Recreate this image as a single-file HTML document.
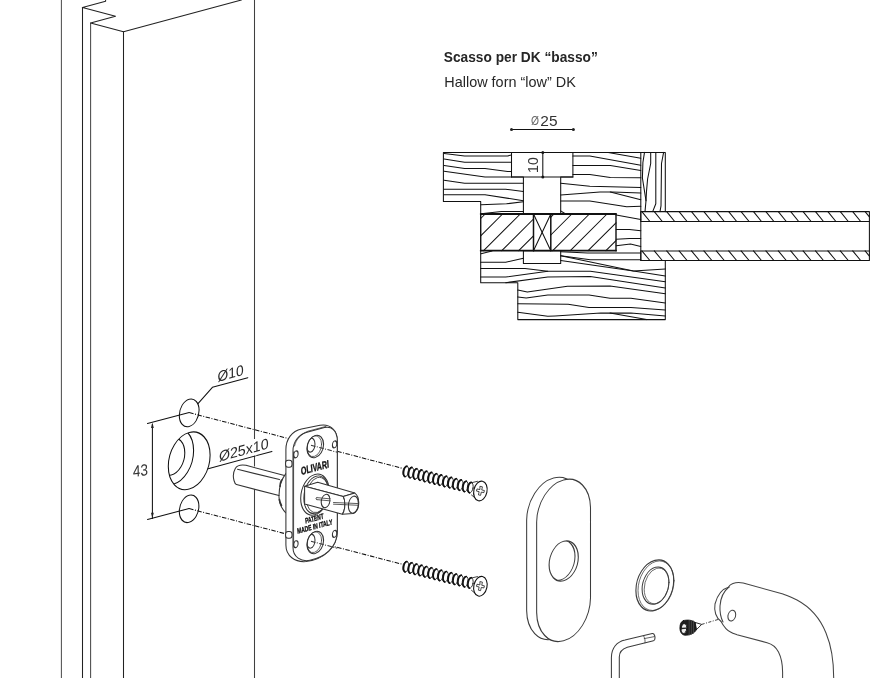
<!DOCTYPE html>
<html><head><meta charset="utf-8">
<style>
html,body{margin:0;padding:0;background:#fff;}
body{width:879px;height:678px;overflow:hidden;}
svg{display:block;will-change:transform;}
text{font-family:"Liberation Sans",sans-serif;-webkit-font-smoothing:antialiased;}
svg{-webkit-font-smoothing:antialiased;}
</style></head>
<body>
<svg width="879" height="678" viewBox="0 0 879 678">
<g fill="none" stroke="#111" stroke-width="1.05" stroke-linejoin="round" stroke-linecap="round">
<g stroke="none" fill="#262626">
<text x="443.8" y="61.7" font-size="15" font-weight="bold" textLength="154" lengthAdjust="spacingAndGlyphs">Scasso per DK “basso”</text>
<text x="444.3" y="86.5" font-size="15" textLength="131.5" lengthAdjust="spacingAndGlyphs">Hallow forn “low” DK</text>
<text x="531" y="125.3" font-size="12.5" fill="#666" textLength="8" lengthAdjust="spacingAndGlyphs">Ø</text>
<text x="540.3" y="125.6" font-size="15" fill="#333" textLength="17.2" lengthAdjust="spacingAndGlyphs">25</text>
<text transform="translate(538.2,173) rotate(-90)" font-size="14.5" fill="#333" textLength="15.8" lengthAdjust="spacingAndGlyphs">10</text>
</g>
<g id="section"><line x1="511.5" y1="129.5" x2="573.4" y2="129.5"/>
<circle cx="511.5" cy="129.5" r="1.5" fill="#222" stroke="none"/>
<circle cx="573.4" cy="129.5" r="1.5" fill="#222" stroke="none"/>
<circle cx="542.8" cy="152.4" r="1.5" fill="#222" stroke="none"/>
<circle cx="542.8" cy="176.9" r="1.5" fill="#222" stroke="none"/>
<line x1="542.8" y1="152.4" x2="542.8" y2="176.9"/>
<polyline points="640.8,152.4 443.4,152.4 443.4,201.5 480.7,201.5 480.7,282.7 517.8,282.7 517.8,319.6 665.3,319.6 665.3,260.5"/>
<polyline points="640.8,152.4 665.3,152.4 665.3,211.6"/>
<line x1="640.8" y1="152.4" x2="640.8" y2="260.5"/>
<polyline points="511.5,152.4 511.5,176.9 572.9,176.9 572.9,152.4"/>
<polyline points="511.5,176.9 523.4,176.9 523.4,213.8"/>
<polyline points="572.9,176.9 560.7,176.9 560.7,213.8"/>
<polyline points="444.1,153.6 464.6,155.9 507.6,155.9 511.4,155.1"/>
<polyline points="444.1,159 464.6,162.3 511.4,162.3"/>
<polyline points="444.1,165.4 464.6,168.4 485,168.4 507.6,171.5 511.4,171.5"/>
<polyline points="444.1,171.3 485,176.9 511.4,176.9"/>
<polyline points="444.1,180.2 464.6,183.3 523.4,183.3"/>
<polyline points="444.1,189.2 505.5,189.2 523.4,191.5"/>
<polyline points="444.1,194.7 485,194.7 523.4,200.7"/>
<polyline points="481,204.8 506.5,203.8 523.4,201.7"/>
<polyline points="481,213.8 501.4,211.4 523.4,211.4"/>
<polyline points="608.2,152.6 640.8,158.2"/>
<polyline points="572.9,155.9 589.8,155.9 640.8,165.2"/>
<polyline points="572.9,165.4 610.3,165.4 640.8,170.5"/>
<polyline points="572.9,174.4 589.8,174.4 610.3,177.4 640.8,177.8"/>
<polyline points="560.7,183.3 589.8,186.3 640.8,187.4"/>
<polyline points="560.7,195 600,192 612.3,192 640.8,193"/>
<polyline points="610.3,192 640.8,199.7"/>
<polyline points="560.7,201 589.8,201 626.7,206.8 640.8,206.3"/>
<polyline points="560.7,210.9 565.2,213.8"/>
<polyline points="644.5,152.4 642.9,162.5 642.4,178 646,200.7 645,211.6"/>
<polyline points="650.7,152.4 650.7,163.5 647.6,179 646.5,191.4 646,200.7"/>
<polyline points="655.8,152.4 655.8,203.8 652.7,211.6"/>
<polyline points="663.6,152.4 661.5,163.5 661,205.9 660,211.6"/>
<polyline points="616.2,215.1 640.8,219.4"/>
<polyline points="616.2,229.5 629.5,229.5 640.8,230.7"/>
<polyline points="616.2,239.3 629.5,238.4 640.8,238.4"/>
<polyline points="616.2,245.8 630.5,244.1 640.8,246.4"/>
<polyline points="481,253.7 492,251"/>
<polyline points="480.7,262.2 505.7,262.2 523.4,258.2"/>
<polyline points="480.7,268.5 525,268.5 547.8,271.3 590.3,271.3 665.3,281.8"/>
<polyline points="480.7,277 505.7,277 547.8,271.3"/>
<polyline points="505.7,282.7 547.8,277 590.3,276.5 665.3,287.9"/>
<polyline points="517.8,290.1 527.3,292.1 567.5,286.2 610,286.1 665.3,293.7"/>
<polyline points="517.8,296.9 526.2,298 547.8,294.9 589,295 610,298.3 630.9,298.3 665.3,302.9"/>
<polyline points="517.8,303.7 568.1,304.2 589,307.4 630.9,307.4 665.3,310"/>
<polyline points="517.8,312.3 547.8,316.3 555,316 600.8,313.1 630.9,313.1 665.3,316"/>
<polyline points="610,313.1 646.6,319.6"/>
<polyline points="560.7,251.7 587.7,253 640.8,253"/>
<polyline points="560.7,255.8 590.3,259.8 640.8,259.8"/>
<polyline points="560.7,255.8 633.5,270.9 665.3,276.1"/>
<polyline points="560.7,260.4 633.5,270.9 665.3,268.9"/>
<line x1="480.7" y1="214" x2="616" y2="214" stroke-width="1.8"/>
<line x1="480.7" y1="250.7" x2="616" y2="250.7" stroke-width="1.8"/>
<line x1="480.7" y1="214" x2="480.7" y2="250.7" stroke-width="1.1"/>
<line x1="616" y1="214" x2="616" y2="250.7" stroke-width="1.4"/>
<line x1="533.5" y1="214" x2="533.5" y2="250.7" stroke-width="1.5"/>
<line x1="550.8" y1="214" x2="550.8" y2="250.7" stroke-width="1.5"/>
<line x1="533.5" y1="214" x2="550.8" y2="250.7"/>
<line x1="550.8" y1="214" x2="533.5" y2="250.7"/>
<line x1="480.7" y1="218.5" x2="485.2" y2="214.0"/>
<line x1="480.7" y1="235.9" x2="502.6" y2="214.0"/>
<line x1="483.6" y1="250.7" x2="520.3" y2="214.0"/>
<line x1="501.8" y1="250.7" x2="533.5" y2="219.0"/>
<line x1="518.7" y1="250.7" x2="533.5" y2="235.9"/>
<line x1="550.8" y1="217.2" x2="554.0" y2="214.0"/>
<line x1="550.8" y1="235.0" x2="571.8" y2="214.0"/>
<line x1="552.7" y1="250.7" x2="589.4" y2="214.0"/>
<line x1="570.3" y1="250.7" x2="607.0" y2="214.0"/>
<line x1="588.1" y1="250.7" x2="616.0" y2="222.8"/>
<line x1="605.9" y1="250.7" x2="616.0" y2="240.6"/>
<rect x="523.4" y="250.7" width="37.3" height="12.7"/>
<rect x="640.8" y="211.6" width="228.6" height="9.9"/>
<rect x="640.8" y="250.9" width="228.6" height="9.6"/>
<line x1="869.4" y1="221.5" x2="869.4" y2="250.9"/>
<line x1="641.9" y1="211.6" x2="649.9" y2="221.5"/>
<line x1="641.9" y1="250.9" x2="649.9" y2="260.5"/>
<line x1="654.3" y1="211.6" x2="662.3" y2="221.5"/>
<line x1="654.3" y1="250.9" x2="662.3" y2="260.5"/>
<line x1="666.7" y1="211.6" x2="674.7" y2="221.5"/>
<line x1="666.7" y1="250.9" x2="674.7" y2="260.5"/>
<line x1="679.1" y1="211.6" x2="687.1" y2="221.5"/>
<line x1="679.1" y1="250.9" x2="687.1" y2="260.5"/>
<line x1="691.5" y1="211.6" x2="699.5" y2="221.5"/>
<line x1="691.5" y1="250.9" x2="699.5" y2="260.5"/>
<line x1="703.9" y1="211.6" x2="711.9" y2="221.5"/>
<line x1="703.9" y1="250.9" x2="711.9" y2="260.5"/>
<line x1="716.3" y1="211.6" x2="724.3" y2="221.5"/>
<line x1="716.3" y1="250.9" x2="724.3" y2="260.5"/>
<line x1="728.7" y1="211.6" x2="736.7" y2="221.5"/>
<line x1="728.7" y1="250.9" x2="736.7" y2="260.5"/>
<line x1="741.1" y1="211.6" x2="749.1" y2="221.5"/>
<line x1="741.1" y1="250.9" x2="749.1" y2="260.5"/>
<line x1="753.5" y1="211.6" x2="761.5" y2="221.5"/>
<line x1="753.5" y1="250.9" x2="761.5" y2="260.5"/>
<line x1="765.9" y1="211.6" x2="773.9" y2="221.5"/>
<line x1="765.9" y1="250.9" x2="773.9" y2="260.5"/>
<line x1="778.3" y1="211.6" x2="786.3" y2="221.5"/>
<line x1="778.3" y1="250.9" x2="786.3" y2="260.5"/>
<line x1="790.7" y1="211.6" x2="798.7" y2="221.5"/>
<line x1="790.7" y1="250.9" x2="798.7" y2="260.5"/>
<line x1="803.1" y1="211.6" x2="811.1" y2="221.5"/>
<line x1="803.1" y1="250.9" x2="811.1" y2="260.5"/>
<line x1="815.5" y1="211.6" x2="823.5" y2="221.5"/>
<line x1="815.5" y1="250.9" x2="823.5" y2="260.5"/>
<line x1="827.9" y1="211.6" x2="835.9" y2="221.5"/>
<line x1="827.9" y1="250.9" x2="835.9" y2="260.5"/>
<line x1="840.3" y1="211.6" x2="848.3" y2="221.5"/>
<line x1="840.3" y1="250.9" x2="848.3" y2="260.5"/>
<line x1="852.7" y1="211.6" x2="860.7" y2="221.5"/>
<line x1="852.7" y1="250.9" x2="860.7" y2="260.5"/>
<line x1="865.1" y1="211.6" x2="869.4" y2="216.9"/>
<line x1="865.1" y1="250.9" x2="869.4" y2="256.1"/></g>
<g id="door">
<line x1="61.4" y1="0" x2="61.4" y2="678" stroke="#505050"/>
<line x1="82.5" y1="7.4" x2="82.5" y2="678" stroke="#222"/>
<line x1="90.6" y1="23" x2="90.6" y2="678" stroke="#4a4a4a"/>
<line x1="123.5" y1="31.7" x2="123.5" y2="678" stroke="#222"/>
<line x1="254.5" y1="0" x2="254.5" y2="466" stroke="#404040"/>
<line x1="254.5" y1="489" x2="254.5" y2="678" stroke="#404040"/>
<polyline points="105.6,0 105.6,1.2 82.5,7.4 115.5,16.2 90.6,23 123.5,31.7 241.4,0" stroke="#222"/>
</g>
<ellipse cx="0" cy="0" rx="9.9" ry="13.6" transform="translate(189.2,412.9) matrix(1,-0.27,0,1,0,0)"/>
<ellipse cx="0" cy="0" rx="9.8" ry="13.5" transform="translate(189.1,508.8) matrix(1,-0.27,0,1,0,0)"/>
<clipPath id="bigc"><ellipse cx="0" cy="0" rx="20.9" ry="28.3" transform="translate(189.2,460.8) matrix(1,-0.27,0,1,0,0)"/></clipPath>
<ellipse cx="0" cy="0" rx="20.9" ry="28.3" transform="translate(189.2,460.8) matrix(1,-0.27,0,1,0,0)"/>
<g clip-path="url(#bigc)"><ellipse cx="0" cy="0" rx="20.9" ry="28.3" transform="translate(172.7,456.3) matrix(1,-0.27,0,1,0,0)"/><ellipse cx="0" cy="0" rx="13.5" ry="18.5" transform="translate(171.3,456.5) matrix(1,-0.27,0,1,0,0)"/></g>
<line x1="147.5" y1="423.5" x2="189.2" y2="412.6"/>
<line x1="147.5" y1="519.4" x2="189.1" y2="508.6"/>
<line x1="152.4" y1="424.5" x2="152.4" y2="518.5"/>
<path d="M152.4,422.6 L151,428 L153.8,428 Z M152.4,518.2 L151,512.8 L153.8,512.8 Z" fill="#222" stroke="none"/>
<text transform="translate(133,477) rotate(-7) skewX(-6)" font-size="16" fill="#333" stroke="none" textLength="15.2" lengthAdjust="spacingAndGlyphs">43</text>
<polyline points="198,403.7 212.4,387.3 247.8,377.7"/>
<line x1="208.2" y1="468.7" x2="271.9" y2="451.4"/>
<line x1="189.2" y1="412.6" x2="403" y2="468.5" stroke-linecap="butt" stroke-dasharray="4.5 1.5 1 1.5" stroke-width="1.05"/>
<line x1="189.1" y1="508.6" x2="403" y2="564.5" stroke-linecap="butt" stroke-dasharray="4.5 1.5 1 1.5" stroke-width="1.05"/>
<g stroke="#333">
<path d="M284.5,475.5 L246,465.3 C241,464.5 237,465.5 235.3,468.5 C233.3,472 233,477 234,480.5 C234.5,482.5 235.3,484 236.5,484.6 L279,495.5" fill="#fff"/>
<line x1="237.5" y1="469.3" x2="279.5" y2="479.6"/>
<path d="M286,473.3 C281.5,479 278.8,488 279,497 C279.2,504 282,509 285.8,512.8"/>
<path d="M281.5,480 C280.5,482 280,484 280,486.5 M279.4,499.5 C279.8,502 280.5,504 281.5,505.5" stroke-width="1.6"/>
<path d="M285.9,545 L285.9,449.6 C285.9,439 292,431 301.5,429 L320,425.3 C330,423.5 337.3,430 337.3,441 L337.3,531 C337.3,548 323,559.5 306,561.6 C295,562.5 285.9,556 285.9,545 Z" fill="#fff"/>
<path d="M293,547.5 L293,451 C293,441 299,434.5 307,432.3 L324.5,427.6 C331,426 337.3,430 337.3,441 L337.3,531 C337.3,548 324,557.5 310,560.3 C301,562 293,557 293,547.5 Z" fill="#fff"/>
<line x1="293.6" y1="452" x2="293.6" y2="546" stroke-width="0.8"/>
<path d="M294.5,446 C296,439 301,434 308,431.2 L326,426.4" stroke-width="0.8"/>
<rect x="285.6" y="460.2" width="6.4" height="7" rx="2.5" fill="#fff"/>
<rect x="285.6" y="531.4" width="6.4" height="6.8" rx="2.5" fill="#fff"/>
<ellipse cx="0" cy="0" rx="2.2" ry="3.4" transform="translate(334.6,444.4) matrix(1,-0.27,0,1,0,0)"/>
<ellipse cx="0" cy="0" rx="2.2" ry="3.4" transform="translate(295.9,454.4) matrix(1,-0.27,0,1,0,0)"/>
<ellipse cx="0" cy="0" rx="2.2" ry="3.4" transform="translate(334.6,533.9) matrix(1,-0.27,0,1,0,0)"/>
<ellipse cx="0" cy="0" rx="2.2" ry="3.4" transform="translate(295.9,544.2) matrix(1,-0.27,0,1,0,0)"/>
<clipPath id="h1c"><ellipse rx="8.3" ry="11" transform="translate(315.3,446.5) matrix(1,-0.27,0,1,0,0)"/></clipPath>
<clipPath id="h2c"><ellipse rx="8.3" ry="11" transform="translate(315.3,542.5) matrix(1,-0.27,0,1,0,0)"/></clipPath>
<ellipse cx="0" cy="0" rx="8.3" ry="11" transform="translate(315.3,446.5) matrix(1,-0.27,0,1,0,0)" stroke-width="1.1"/>
<ellipse cx="0" cy="0" rx="8.3" ry="11" transform="translate(315.3,542.5) matrix(1,-0.27,0,1,0,0)" stroke-width="1.1"/>
<ellipse cx="0" cy="0" rx="7.3" ry="10.2" transform="translate(314.3,446.2) matrix(1,-0.27,0,1,0,0)" stroke-width="0.7"/>
<ellipse cx="0" cy="0" rx="7.3" ry="10.2" transform="translate(314.3,542.2) matrix(1,-0.27,0,1,0,0)" stroke-width="0.7"/>
<g clip-path="url(#h1c)"><ellipse cx="0" cy="0" rx="4.1" ry="6.8" transform="translate(310.9,445.2) matrix(1,-0.27,0,1,0,0)"/></g>
<g clip-path="url(#h2c)"><ellipse cx="0" cy="0" rx="4.1" ry="6.8" transform="translate(310.9,541.3) matrix(1,-0.27,0,1,0,0)"/></g>
<line x1="311" y1="445.3" x2="337.3" y2="452.2" stroke-linecap="butt" stroke-dasharray="4.5 1.5 1 1.5" stroke-width="1.05"/>
<line x1="311" y1="541.3" x2="337.3" y2="548.2" stroke-linecap="butt" stroke-dasharray="4.5 1.5 1 1.5" stroke-width="1.05"/>
<ellipse cx="0" cy="0" rx="14.2" ry="20.2" transform="translate(314.9,494.6) matrix(1,-0.27,0,1,0,0)" fill="#fff"/>
<clipPath id="rc"><ellipse rx="14.2" ry="20.2" transform="translate(314.9,494.6) matrix(1,-0.27,0,1,0,0)"/></clipPath>
<g clip-path="url(#rc)"><ellipse cx="0" cy="0" rx="12.4" ry="18.6" transform="translate(316.2,494.8) matrix(1,-0.27,0,1,0,0)" stroke-width="0.9"/><ellipse cx="0" cy="0" rx="11.2" ry="17.4" transform="translate(317.4,495.0) matrix(1,-0.27,0,1,0,0)" stroke-width="0.8"/></g>
<path d="M304.6,486.2 L317.7,482.2 L354.8,493.1 L343.2,496.4 Z" fill="#fff"/>
<path d="M304.6,486.2 L343.2,496.4 C345.5,500 345.5,510 342.4,514.2 L304.6,504 Z" fill="#fff"/>
<path d="M343.2,496.4 L354.8,493.1 C358,495.5 359,501 358.6,505 C358.3,509 356.5,512 353,513.6 L342.4,514.2 C345.5,510 345.5,500 343.2,496.4 Z" fill="#fff"/>
<ellipse cx="0" cy="0" rx="5.0" ry="8.5" transform="translate(353.4,504.7) matrix(1,-0.27,0,1,0,0)"/>
<path d="M316.8,497.6 L330.5,498.9 M316.8,499.6 L330.5,500.9 M316.8,497.6 C315.6,498 315.6,499.2 316.8,499.6 M333.5,502.5 L358.6,503.6 M333.5,504.2 L358.6,505.3" stroke-width="0.8"/>
<clipPath id="sc"><rect x="300" y="480" width="30.3" height="40"/></clipPath>
<g clip-path="url(#sc)"><ellipse cx="0" cy="0" rx="4.4" ry="6.6" transform="translate(325.6,501) matrix(1,-0.27,0,1,0,0)"/></g>
<text transform="translate(301.2,475) rotate(-15) skewX(-10)" font-size="10.8" font-weight="bold" fill="#111" stroke="#111" stroke-width="0.35" textLength="29" lengthAdjust="spacingAndGlyphs">OLIVARI</text>
<text transform="translate(305.5,523.5) rotate(-15) skewX(-8)" font-size="7.5" font-weight="bold" fill="#111" stroke="#111" stroke-width="0.35" textLength="19" lengthAdjust="spacingAndGlyphs">PATENT</text>
<text transform="translate(297.4,533.8) rotate(-15) skewX(-8)" font-size="7.5" font-weight="bold" fill="#111" stroke="#111" stroke-width="0.35" textLength="36.5" lengthAdjust="spacingAndGlyphs">MADE IN ITALY</text>
</g>
<g transform="translate(405.8,471.4) rotate(10)"><ellipse cx="0" cy="0" rx="2.9" ry="5.4" fill="#fff" stroke="#111" stroke-width="0.8"/><path d="M0.2,-5.3 A2.9,5.4 0 0 0 0.2,5.3" stroke="#111" stroke-width="1.7"/></g><g transform="translate(410.8,472.6) rotate(10)"><ellipse cx="0" cy="0" rx="2.9" ry="5.4" fill="#fff" stroke="#111" stroke-width="0.8"/><path d="M0.2,-5.3 A2.9,5.4 0 0 0 0.2,5.3" stroke="#111" stroke-width="1.7"/></g><g transform="translate(415.7,473.9) rotate(10)"><ellipse cx="0" cy="0" rx="2.9" ry="5.4" fill="#fff" stroke="#111" stroke-width="0.8"/><path d="M0.2,-5.3 A2.9,5.4 0 0 0 0.2,5.3" stroke="#111" stroke-width="1.7"/></g><g transform="translate(420.7,475.1) rotate(10)"><ellipse cx="0" cy="0" rx="2.9" ry="5.4" fill="#fff" stroke="#111" stroke-width="0.8"/><path d="M0.2,-5.3 A2.9,5.4 0 0 0 0.2,5.3" stroke="#111" stroke-width="1.7"/></g><g transform="translate(425.6,476.4) rotate(10)"><ellipse cx="0" cy="0" rx="2.9" ry="5.4" fill="#fff" stroke="#111" stroke-width="0.8"/><path d="M0.2,-5.3 A2.9,5.4 0 0 0 0.2,5.3" stroke="#111" stroke-width="1.7"/></g><g transform="translate(430.6,477.6) rotate(10)"><ellipse cx="0" cy="0" rx="2.9" ry="5.4" fill="#fff" stroke="#111" stroke-width="0.8"/><path d="M0.2,-5.3 A2.9,5.4 0 0 0 0.2,5.3" stroke="#111" stroke-width="1.7"/></g><g transform="translate(435.5,478.9) rotate(10)"><ellipse cx="0" cy="0" rx="2.9" ry="5.4" fill="#fff" stroke="#111" stroke-width="0.8"/><path d="M0.2,-5.3 A2.9,5.4 0 0 0 0.2,5.3" stroke="#111" stroke-width="1.7"/></g><g transform="translate(440.4,480.1) rotate(10)"><ellipse cx="0" cy="0" rx="2.9" ry="5.4" fill="#fff" stroke="#111" stroke-width="0.8"/><path d="M0.2,-5.3 A2.9,5.4 0 0 0 0.2,5.3" stroke="#111" stroke-width="1.7"/></g><g transform="translate(445.4,481.4) rotate(10)"><ellipse cx="0" cy="0" rx="2.9" ry="5.4" fill="#fff" stroke="#111" stroke-width="0.8"/><path d="M0.2,-5.3 A2.9,5.4 0 0 0 0.2,5.3" stroke="#111" stroke-width="1.7"/></g><g transform="translate(450.4,482.6) rotate(10)"><ellipse cx="0" cy="0" rx="2.9" ry="5.4" fill="#fff" stroke="#111" stroke-width="0.8"/><path d="M0.2,-5.3 A2.9,5.4 0 0 0 0.2,5.3" stroke="#111" stroke-width="1.7"/></g><g transform="translate(455.3,483.9) rotate(10)"><ellipse cx="0" cy="0" rx="2.9" ry="5.4" fill="#fff" stroke="#111" stroke-width="0.8"/><path d="M0.2,-5.3 A2.9,5.4 0 0 0 0.2,5.3" stroke="#111" stroke-width="1.7"/></g><g transform="translate(460.2,485.1) rotate(10)"><ellipse cx="0" cy="0" rx="2.9" ry="5.4" fill="#fff" stroke="#111" stroke-width="0.8"/><path d="M0.2,-5.3 A2.9,5.4 0 0 0 0.2,5.3" stroke="#111" stroke-width="1.7"/></g><g transform="translate(465.2,486.4) rotate(10)"><ellipse cx="0" cy="0" rx="2.9" ry="5.4" fill="#fff" stroke="#111" stroke-width="0.8"/><path d="M0.2,-5.3 A2.9,5.4 0 0 0 0.2,5.3" stroke="#111" stroke-width="1.7"/></g><g transform="translate(470.2,487.6) rotate(10)"><ellipse cx="0" cy="0" rx="2.9" ry="5.4" fill="#fff" stroke="#111" stroke-width="0.8"/><path d="M0.2,-5.3 A2.9,5.4 0 0 0 0.2,5.3" stroke="#111" stroke-width="1.7"/></g><path d="M472,482.6 L477.5,481.3 M471.5,495 L477,499.5" stroke-width="0.8"/><ellipse cx="0" cy="0" rx="6.6" ry="10" transform="translate(480.4,491) rotate(12)" fill="#fff" stroke-width="1.1"/><path d="M479.3,486.5 L481.5,486.5 L481.5,489.7 L484.2,489.7 L484.2,491.9 L481.5,491.9 L481.5,495.2 L479.3,495.2 L479.3,491.9 L476.6,491.9 L476.6,489.7 L479.3,489.7 Z" stroke-width="0.7" transform="rotate(12,480.4,491)"/>
<g transform="translate(405.8,566.7) rotate(10)"><ellipse cx="0" cy="0" rx="2.9" ry="5.4" fill="#fff" stroke="#111" stroke-width="0.8"/><path d="M0.2,-5.3 A2.9,5.4 0 0 0 0.2,5.3" stroke="#111" stroke-width="1.7"/></g><g transform="translate(410.8,567.9) rotate(10)"><ellipse cx="0" cy="0" rx="2.9" ry="5.4" fill="#fff" stroke="#111" stroke-width="0.8"/><path d="M0.2,-5.3 A2.9,5.4 0 0 0 0.2,5.3" stroke="#111" stroke-width="1.7"/></g><g transform="translate(415.7,569.2) rotate(10)"><ellipse cx="0" cy="0" rx="2.9" ry="5.4" fill="#fff" stroke="#111" stroke-width="0.8"/><path d="M0.2,-5.3 A2.9,5.4 0 0 0 0.2,5.3" stroke="#111" stroke-width="1.7"/></g><g transform="translate(420.7,570.4) rotate(10)"><ellipse cx="0" cy="0" rx="2.9" ry="5.4" fill="#fff" stroke="#111" stroke-width="0.8"/><path d="M0.2,-5.3 A2.9,5.4 0 0 0 0.2,5.3" stroke="#111" stroke-width="1.7"/></g><g transform="translate(425.6,571.7) rotate(10)"><ellipse cx="0" cy="0" rx="2.9" ry="5.4" fill="#fff" stroke="#111" stroke-width="0.8"/><path d="M0.2,-5.3 A2.9,5.4 0 0 0 0.2,5.3" stroke="#111" stroke-width="1.7"/></g><g transform="translate(430.6,572.9) rotate(10)"><ellipse cx="0" cy="0" rx="2.9" ry="5.4" fill="#fff" stroke="#111" stroke-width="0.8"/><path d="M0.2,-5.3 A2.9,5.4 0 0 0 0.2,5.3" stroke="#111" stroke-width="1.7"/></g><g transform="translate(435.5,574.2) rotate(10)"><ellipse cx="0" cy="0" rx="2.9" ry="5.4" fill="#fff" stroke="#111" stroke-width="0.8"/><path d="M0.2,-5.3 A2.9,5.4 0 0 0 0.2,5.3" stroke="#111" stroke-width="1.7"/></g><g transform="translate(440.4,575.4) rotate(10)"><ellipse cx="0" cy="0" rx="2.9" ry="5.4" fill="#fff" stroke="#111" stroke-width="0.8"/><path d="M0.2,-5.3 A2.9,5.4 0 0 0 0.2,5.3" stroke="#111" stroke-width="1.7"/></g><g transform="translate(445.4,576.7) rotate(10)"><ellipse cx="0" cy="0" rx="2.9" ry="5.4" fill="#fff" stroke="#111" stroke-width="0.8"/><path d="M0.2,-5.3 A2.9,5.4 0 0 0 0.2,5.3" stroke="#111" stroke-width="1.7"/></g><g transform="translate(450.4,577.9) rotate(10)"><ellipse cx="0" cy="0" rx="2.9" ry="5.4" fill="#fff" stroke="#111" stroke-width="0.8"/><path d="M0.2,-5.3 A2.9,5.4 0 0 0 0.2,5.3" stroke="#111" stroke-width="1.7"/></g><g transform="translate(455.3,579.2) rotate(10)"><ellipse cx="0" cy="0" rx="2.9" ry="5.4" fill="#fff" stroke="#111" stroke-width="0.8"/><path d="M0.2,-5.3 A2.9,5.4 0 0 0 0.2,5.3" stroke="#111" stroke-width="1.7"/></g><g transform="translate(460.2,580.4) rotate(10)"><ellipse cx="0" cy="0" rx="2.9" ry="5.4" fill="#fff" stroke="#111" stroke-width="0.8"/><path d="M0.2,-5.3 A2.9,5.4 0 0 0 0.2,5.3" stroke="#111" stroke-width="1.7"/></g><g transform="translate(465.2,581.7) rotate(10)"><ellipse cx="0" cy="0" rx="2.9" ry="5.4" fill="#fff" stroke="#111" stroke-width="0.8"/><path d="M0.2,-5.3 A2.9,5.4 0 0 0 0.2,5.3" stroke="#111" stroke-width="1.7"/></g><g transform="translate(470.2,582.9) rotate(10)"><ellipse cx="0" cy="0" rx="2.9" ry="5.4" fill="#fff" stroke="#111" stroke-width="0.8"/><path d="M0.2,-5.3 A2.9,5.4 0 0 0 0.2,5.3" stroke="#111" stroke-width="1.7"/></g><path d="M472,577.9 L477.5,576.6 M471.5,590.3 L477,594.8" stroke-width="0.8"/><ellipse cx="0" cy="0" rx="6.6" ry="10" transform="translate(480.4,586.3) rotate(12)" fill="#fff" stroke-width="1.1"/><path d="M479.3,581.8 L481.5,581.8 L481.5,585.0 L484.2,585.0 L484.2,587.1999999999999 L481.5,587.1999999999999 L481.5,590.5 L479.3,590.5 L479.3,587.1999999999999 L476.6,587.1999999999999 L476.6,585.0 L479.3,585.0 Z" stroke-width="0.7" transform="rotate(12,480.4,586.3)"/>
<g stroke="#3c3c3c">
<path d="M0,522 A26.93,35.5 0 0 1 53.85,522 L53.85,612.5 A26.93,36.3 0 0 1 0,612.5 Z" transform="translate(526.65,-1.9) matrix(1,-0.27,0,1,0,0)" fill="#fff"/>
<path d="M0,522 A26.93,35.5 0 0 1 53.85,522 L53.85,612.5 A26.93,36.3 0 0 1 0,612.5 Z" transform="translate(536.65,0) matrix(1,-0.27,0,1,0,0)" fill="#fff"/>
<clipPath id="ec"><ellipse rx="14.6" ry="19.7" transform="translate(563.7,561) matrix(1,-0.27,0,1,0,0)"/></clipPath>
<ellipse cx="0" cy="0" rx="14.6" ry="19.7" transform="translate(563.7,561) matrix(1,-0.27,0,1,0,0)" stroke-width="1.1"/>
<g clip-path="url(#ec)"><ellipse cx="0" cy="0" rx="14.6" ry="19.7" transform="translate(560.4,560.2) matrix(1,-0.27,0,1,0,0)"/></g>
<ellipse cx="0" cy="0" rx="18.9" ry="25.0" transform="translate(654.8,585.4) matrix(1,-0.27,0,1,0,0)" stroke-width="1.1"/>
<ellipse cx="0" cy="0" rx="18.0" ry="24.3" transform="translate(656.0,585.7) matrix(1,-0.27,0,1,0,0)" stroke-width="0.7"/>
<ellipse cx="0" cy="0" rx="13.4" ry="18.3" transform="translate(655.5,585.6) matrix(1,-0.27,0,1,0,0)" stroke-width="1"/>
<ellipse cx="0" cy="0" rx="12.4" ry="17.5" transform="translate(656.6,585.9) matrix(1,-0.27,0,1,0,0)" stroke-width="0.7"/>
<path d="M611.4,678 L611.4,657.5 C611.4,648 617,641.5 625,639.9 L652.3,633.6 C654.5,633.2 655.5,637 654.7,639.5 C654.2,640.5 653.8,640.7 653.5,640.7 L627.3,647.3 C622,649 619.3,652 619.3,657 L619.3,678" fill="#fff"/>
<path d="M643.8,636.3 C644.8,638 645.3,640.5 645,642.8 M644.2,638.6 L654.4,636.6" stroke-width="0.8"/>
</g>
<path d="M695.2,622.5 L701.7,624.4 L696.5,629.6 Z" fill="#fff" stroke="#111" stroke-width="0.9"/>
<path d="M683.5,620.6 C687,619.6 692,619.8 695.2,622.5 L696.4,629.6 C695,633 690,635.5 685,635.2 C681.5,635 679.9,631.5 679.9,628 C679.9,624 681,621.4 683.5,620.6 Z" fill="#1e1e1e" stroke="#111" stroke-width="0.8"/>
<path d="M689.2,620.4 L689.2,634.8 M691.4,620.4 L691.4,634.3 M693.5,621 L693.5,633.3" stroke="#555" stroke-width="0.7"/>
<ellipse cx="684" cy="628.6" rx="2.8" ry="4.9" transform="rotate(8,684,628.6)" fill="#eee" stroke="#111" stroke-width="0.9"/>
<line x1="681.4" y1="628.5" x2="686.6" y2="628.1" stroke="#222" stroke-width="1.3"/>
<line x1="701.7" y1="624.4" x2="731" y2="615.6" stroke-linecap="butt" stroke-dasharray="3 1.5 1 1.5" stroke-width="0.8"/>
<g stroke="#444">
<path d="M720.9,621.2 C724,627 726,630 730.5,632 C733,633.5 735,634 737,634.7 L767.1,642.7 C772,644 776,647 778.5,652 C781,657 782.6,663 782.6,672 L782.6,690 L833.7,690 L833.7,678 C833.7,660 831,645 826,633 C820,618 810,607 797,600 C792,597.5 788,596 783,594.1 L743.2,583 C740,582.3 736,582.3 733,583.5 C730,584.8 728.9,586 728.9,587" fill="#fff"/>
<path d="M728.9,587 C722,589 717,596 715,604 C713.8,611 716,618 720.9,621.2" fill="#fff"/>
<path d="M728.9,587 C724,591 720.5,598 720,606 C719.6,613 721,618 723,622" />
<ellipse cx="0" cy="0" rx="3.9" ry="5.3" transform="translate(731.8,615.6) matrix(1,-0.27,0,1,0,0)"/>
</g>
<rect x="252.5" y="439" width="4" height="16.5" fill="#fff" stroke="none"/>
<text transform="translate(217.6,382) matrix(0.966,-0.259,0,1,0,0)" font-size="15" fill="#2a2a2a" stroke="none" textLength="27" lengthAdjust="spacingAndGlyphs">Ø10</text>
<text transform="translate(218.9,461.8) matrix(0.966,-0.259,0,1,0,0)" font-size="15" fill="#2a2a2a" stroke="none" textLength="51.5" lengthAdjust="spacingAndGlyphs">Ø25x10</text>
</g>
</svg>
</body></html>
